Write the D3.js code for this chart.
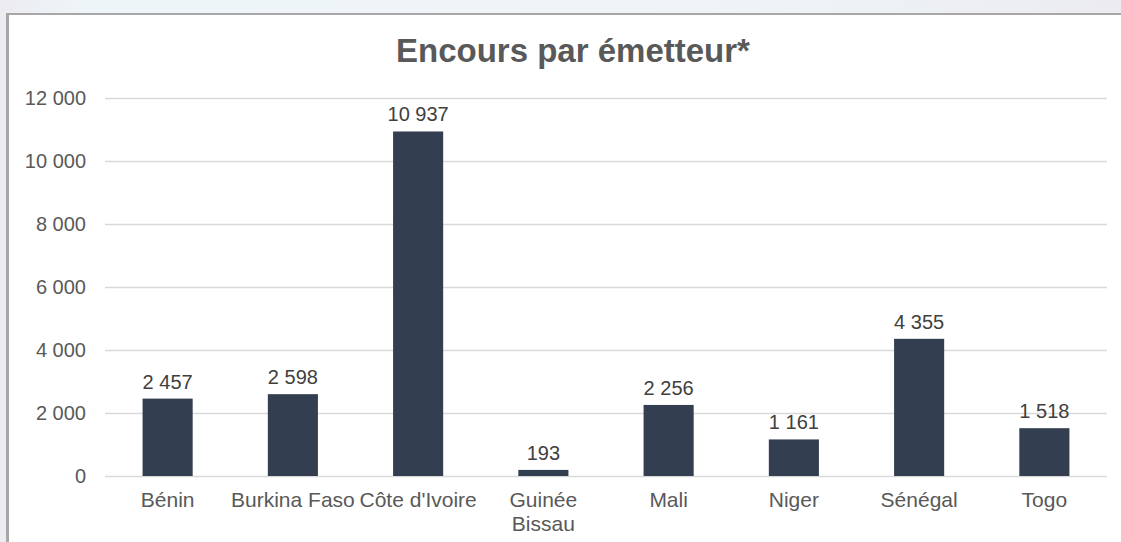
<!DOCTYPE html>
<html>
<head>
<meta charset="utf-8">
<script src="https://cdn.jsdelivr.net/npm/d3@7"></script>
<style>
  body { margin: 0; background: #fff; }
  text { font-family: "Liberation Sans", Arial, sans-serif; }
</style>
</head>
<body>
<div id="chart"></div>
<script>
// Data
var countries = ["Bénin", "Burkina Faso", "Côte d'Ivoire", "Guinée Bissau", "Mali", "Niger", "Sénégal", "Togo"];
var encours = [2457, 2598, 10937, 193, 2256, 1161, 4355, 1518];
var yTicks = [0, 2000, 4000, 6000, 8000, 10000, 12000];

var data = countries.map(function(c, i) { return { pays: c, valeur: encours[i] }; });

var svgWidth = 1121;
var svgHeight = 542;

var margin = { top: 98, right: 14, bottom: 66, left: 105 };
var chartWidth = svgWidth - margin.left - margin.right;
var chartHeight = svgHeight - margin.top - margin.bottom;

var fr = d3.formatLocale({ decimal: ",", thousands: "\u00a0", grouping: [3], currency: ["", " €"] });
var fmt = fr.format(",d");

var svg = d3.select("#chart")
  .append("svg")
  .attr("width", svgWidth)
  .attr("height", svgHeight);

// page background around the chart frame
var grad = svg.append("defs").append("linearGradient").attr("id", "bg");
grad.append("stop").attr("offset", "0%").attr("stop-color", "#ececf1");
grad.append("stop").attr("offset", "8%").attr("stop-color", "#eef5f8");
grad.append("stop").attr("offset", "70%").attr("stop-color", "#eef3f6");
grad.append("stop").attr("offset", "100%").attr("stop-color", "#ececf0");

svg.append("rect").attr("x", 0).attr("y", 0).attr("width", svgWidth).attr("height", 13).attr("fill", "url(#bg)");
svg.append("rect").attr("x", 0).attr("y", 0).attr("width", 6).attr("height", svgHeight).attr("fill", "#ececf1");
svg.append("rect").attr("x", 6).attr("y", 13).attr("width", svgWidth - 6).attr("height", 2).attr("fill", "#a9a6a8");
svg.append("rect").attr("x", 6).attr("y", 13).attr("width", 3).attr("height", svgHeight - 13).attr("fill", "#a9a6a8");

// title
svg.append("text")
  .attr("x", 573)
  .attr("y", 62)
  .attr("text-anchor", "middle")
  .style("font-size", "33px")
  .style("font-weight", "bold")
  .style("fill", "#595959")
  .text("Encours par émetteur*");

var chart = svg.append("g")
  .attr("transform", `translate(${margin.left}, ${margin.top})`);

var x = d3.scaleBand()
  .domain(countries)
  .range([0, chartWidth])
  .paddingInner(0.6)
  .paddingOuter(0.3);

var y = d3.scaleLinear()
  .domain([0, 12000])
  .range([chartHeight, 0]);

// gridlines + y labels
var leftAxis = d3.axisLeft(y)
  .tickValues(yTicks)
  .tickSize(-chartWidth)
  .tickPadding(19)
  .tickFormat(fmt);

var yAxis = chart.append("g").call(leftAxis);
yAxis.select(".domain").remove();
yAxis.selectAll(".tick line").attr("stroke", "#d9d9d9").attr("stroke-width", 1.5);
yAxis.selectAll(".tick text")
  .style("font-size", "20px")
  .style("fill", "#595959")
  .style("font-family", "'Liberation Sans', Arial, sans-serif");

// bars
chart.selectAll("rect.bar")
  .data(data)
  .enter().append("rect")
    .attr("class", "bar")
    .attr("x", function(d) { return x(d.pays); })
    .attr("y", function(d) { return y(d.valeur); })
    .attr("width", x.bandwidth())
    .attr("height", function(d) { return chartHeight - y(d.valeur); })
    .attr("fill", "#333f50");

// value labels
chart.selectAll("text.val")
  .data(data)
  .enter().append("text")
    .attr("class", "val")
    .attr("x", function(d) { return x(d.pays) + x.bandwidth() / 2; })
    .attr("y", function(d) { return y(d.valeur) - 10; })
    .attr("text-anchor", "middle")
    .style("font-size", "20px")
    .style("fill", "#404040")
    .text(function(d) { return fmt(d.valeur); });

// category labels (Guinée Bissau wraps on two lines)
var bottomAxis = d3.axisBottom(x).tickSize(0).tickPadding(0);
var xAxis = chart.append("g")
  .attr("transform", `translate(0, ${chartHeight})`)
  .call(bottomAxis);
xAxis.select(".domain").remove();
xAxis.selectAll(".tick text").remove();
xAxis.selectAll(".tick").each(function(c) {
  var words = c === "Guinée Bissau" ? ["Guinée", "Bissau"] : [c];
  var t = d3.select(this).append("text")
    .attr("text-anchor", "middle")
    .attr("y", 31)
    .style("font-size", "21px")
    .style("fill", "#595959");
  words.forEach(function(w, i) {
    t.append("tspan").attr("x", 0).attr("dy", i === 0 ? 0 : 24).text(w);
  });
});
</script>
</body>
</html>
